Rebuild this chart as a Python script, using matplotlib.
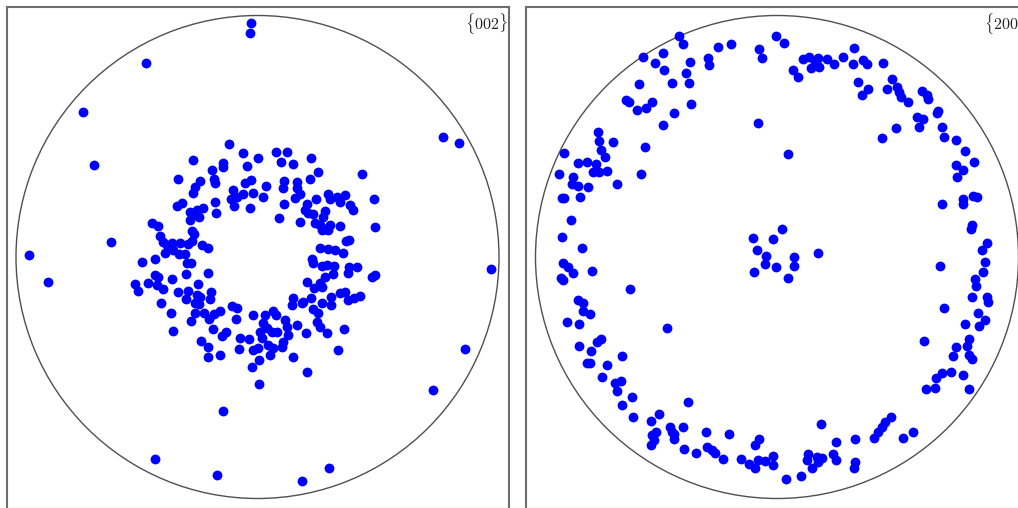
import matplotlib
matplotlib.use("Agg")
import matplotlib.pyplot as plt
from matplotlib import rcParams
from matplotlib.patches import Circle

import numpy as np

# pole figure points, projected onto the unit circle (x, y)
POLES_002_OUTER = [
    (-0.028, 0.968), (-0.029, 0.929), (-0.462, 0.802), (-0.724, 0.602),
    (-0.678, 0.380), (-0.947, 0.010), (-0.866, -0.102), (-0.608, 0.063),
    (0.769, 0.498), (0.836, 0.471), (0.968, -0.051), (0.858, -0.380),
    (0.725, -0.551), (0.297, -0.874), (0.183, -0.929), (-0.142, -0.636),
    (-0.423, -0.838), (-0.166, -0.901),
]

POLES_002_RING_UL = [
    (-0.117, 0.467), (-0.059, 0.429), (0.004, 0.411), (-0.269, 0.401),
    (-0.142, 0.388), (-0.142, 0.373), (-0.045, 0.377), (-0.190, 0.362),
    (-0.328, 0.324), (-0.238, 0.315), (-0.259, 0.291), (-0.268, 0.267),
    (-0.179, 0.321), (-0.176, 0.305), (-0.052, 0.305), (-0.027, 0.319),
    (-0.100, 0.276), (-0.108, 0.242), (-0.086, 0.250), (-0.059, 0.259),
    (-0.017, 0.264), (-0.096, 0.212), (-0.031, 0.204), (-0.176, 0.227),
    (-0.313, 0.224), (-0.335, 0.212), (-0.226, 0.203), (-0.252, 0.195),
    (-0.280, 0.186), (-0.262, 0.178), (-0.172, 0.181), (-0.280, 0.155),
    (-0.241, 0.166), (-0.438, 0.140), (-0.412, 0.127), (-0.272, 0.108),
    (-0.261, 0.094), (-0.272, 0.068), (-0.286, 0.052), (-0.402, 0.088),
    (-0.392, 0.064), (-0.376, 0.048), (-0.355, 0.057), (-0.321, 0.057),
    (-0.231, 0.050), (-0.205, 0.039), (-0.383, 0.015), (-0.349, 0.027),
    (-0.327, 0.014), (-0.302, 0.014), (-0.424, -0.007), (-0.480, -0.019),
    (-0.292, -0.026), (-0.275, -0.024),
]

POLES_002_RING_UR = [
    (0.075, 0.434), (0.121, 0.436), (0.096, 0.395), (0.148, 0.385),
    (0.220, 0.411), (0.431, 0.344), (0.249, 0.351), (0.217, 0.322),
    (0.035, 0.295), (0.111, 0.315), (0.104, 0.287), (0.162, 0.312),
    (0.162, 0.287), (0.176, 0.260), (0.024, 0.250), (0.155, 0.243),
    (0.242, 0.240), (0.293, 0.260), (0.300, 0.240), (0.328, 0.250),
    (0.362, 0.257), (0.342, 0.229), (0.383, 0.215), (0.394, 0.195),
    (0.482, 0.240), (0.111, 0.218), (0.204, 0.218), (0.197, 0.195),
    (0.210, 0.181), (0.231, 0.177), (0.280, 0.190), (0.272, 0.167),
    (0.089, 0.163), (0.176, 0.144), (0.238, 0.140), (0.259, 0.133),
    (0.266, 0.112), (0.280, 0.115), (0.300, 0.133), (0.293, 0.112),
    (0.342, 0.128), (0.487, 0.125), (0.366, 0.066), (0.380, 0.072),
    (0.259, 0.039), (0.293, 0.032), (0.321, 0.029), (0.353, 0.015),
    (0.224, -0.008), (0.231, -0.024),
]

POLES_002_RING_LR = [
    (0.266, -0.037), (0.289, -0.033), (0.317, -0.037), (0.311, -0.070),
    (0.280, -0.082), (0.379, -0.043), (0.411, -0.040), (0.373, -0.065),
    (0.473, -0.082), (0.487, -0.075), (0.206, -0.102), (0.259, -0.106),
    (0.266, -0.125), (0.235, -0.130), (0.342, -0.150), (0.362, -0.144),
    (0.373, -0.178), (0.400, -0.171), (0.424, -0.161), (0.146, -0.171),
    (0.142, -0.199), (0.183, -0.192), (0.190, -0.185), (0.222, -0.169),
    (0.266, -0.192), (0.303, -0.167), (0.303, -0.199), (0.231, -0.217),
    (0.252, -0.233), (0.245, -0.268), (0.259, -0.289), (0.289, -0.313),
    (0.359, -0.298), (0.335, -0.385), (0.165, -0.283), (0.200, -0.316),
    (0.146, -0.415), (0.206, -0.475), (0.006, -0.526),
    (-0.017, -0.240), (0.031, -0.240), (0.063, -0.224), (0.077, -0.240),
    (0.022, -0.275), (0.038, -0.295), (0.010, -0.309), (0.059, -0.309),
    (0.080, -0.309), (0.114, -0.261), (0.121, -0.289), (0.128, -0.323),
    (0.107, -0.351), (0.100, -0.371), (0.065, -0.378), (0.045, -0.364),
    (0.017, -0.337), (0.003, -0.378), (0.052, -0.406), (-0.017, -0.385),
    (0.007, -0.427), (-0.024, -0.454),
]

POLES_002_RING_LL = [
    (-0.424, -0.075), (-0.410, -0.081), (-0.507, -0.112), (-0.494, -0.141),
    (-0.453, -0.108), (-0.418, -0.118), (-0.391, -0.133), (-0.355, -0.092),
    (-0.296, -0.072), (-0.207, -0.065), (-0.245, -0.111), (-0.328, -0.145),
    (-0.288, -0.141), (-0.296, -0.175), (-0.251, -0.157), (-0.238, -0.166),
    (-0.257, -0.192), (-0.242, -0.195), (-0.193, -0.144), (-0.197, -0.175),
    (-0.398, -0.189), (-0.358, -0.231), (-0.257, -0.232), (-0.222, -0.230),
    (-0.276, -0.264), (-0.201, -0.255), (-0.180, -0.236), (-0.155, -0.225),
    (-0.104, -0.203), (-0.083, -0.210), (-0.088, -0.258), (-0.186, -0.297),
    (-0.145, -0.327), (-0.130, -0.312), (-0.350, -0.306), (-0.234, -0.348),
    (-0.207, -0.373), (-0.072, -0.334), (-0.036, -0.341), (-0.075, -0.379),
    (-0.204, -0.415), (-0.155, -0.406),
]

POLES_200_RING = [
    # upper left
    (-0.405, 0.916), (-0.390, 0.881), (-0.246, 0.868), (-0.190, 0.881),
    (-0.073, 0.861), (-0.063, 0.823), (-0.471, 0.846), (-0.556, 0.827),
    (-0.505, 0.802), (-0.468, 0.774), (-0.360, 0.806), (-0.287, 0.825),
    (-0.280, 0.795), (-0.378, 0.761), (-0.364, 0.722), (-0.436, 0.722),
    (-0.570, 0.715), (-0.625, 0.650), (-0.612, 0.641), (-0.578, 0.609),
    (-0.544, 0.618), (-0.519, 0.641), (-0.357, 0.632), (-0.427, 0.595),
    (-0.472, 0.547), (-0.742, 0.519), (-0.736, 0.482), (-0.678, 0.477),
    (-0.729, 0.443), (-0.712, 0.415), (-0.881, 0.432), (-0.547, 0.457),
    (-0.823, 0.390), (-0.788, 0.395), (-0.749, 0.385), (-0.761, 0.353),
    (-0.737, 0.351), (-0.703, 0.357), (-0.901, 0.342), (-0.846, 0.333),
    (-0.850, 0.301), (-0.823, 0.294), (-0.784, 0.289), (-0.661, 0.301),
    (-0.563, 0.342), (-0.892, 0.243), (-0.880, 0.243), (-0.816, 0.250),
    (-0.853, 0.153), (-0.889, 0.082), (-0.809, 0.039),
    # upper right
    (-0.004, 0.915), (0.029, 0.885), (0.320, 0.864), (0.109, 0.820),
    (0.134, 0.829), (0.171, 0.823), (0.206, 0.819), (0.141, 0.781),
    (0.175, 0.788), (0.157, 0.809), (0.237, 0.799), (0.275, 0.827),
    (0.316, 0.799), (0.355, 0.816), (0.371, 0.798), (0.440, 0.802),
    (0.067, 0.774), (0.086, 0.744), (0.334, 0.723), (0.378, 0.694),
    (0.351, 0.671), (0.454, 0.694), (0.477, 0.736), (0.498, 0.705),
    (0.505, 0.684), (0.512, 0.664), (0.544, 0.641), (0.599, 0.687),
    (0.622, 0.671), (0.627, 0.653), (0.668, 0.605), (0.664, 0.595),
    (0.578, 0.581), (0.606, 0.571), (0.588, 0.537), (0.492, 0.533),
    (0.436, 0.492), (0.684, 0.540), (0.692, 0.498), (0.741, 0.484),
    (0.778, 0.439), (0.816, 0.392), (0.741, 0.381), (0.771, 0.360),
    (0.744, 0.333), (0.682, 0.218), (0.769, 0.239), (0.769, 0.219),
    (0.810, 0.254), (0.829, 0.250), (0.809, 0.133), (0.803, 0.115),
    (0.868, 0.057), (0.848, 0.029),
    # lower right
    (0.861, -0.019), (0.854, -0.063), (0.820, -0.091), (0.824, -0.119),
    (0.809, -0.164), (0.868, -0.164), (0.875, -0.188), (0.675, -0.037),
    (0.693, -0.210), (0.834, -0.233), (0.861, -0.261), (0.838, -0.286),
    (0.778, -0.277), (0.607, -0.348), (0.795, -0.341), (0.785, -0.367),
    (0.740, -0.371), (0.728, -0.409), (0.796, -0.406), (0.806, -0.424),
    (0.719, -0.475), (0.682, -0.482), (0.658, -0.502), (0.769, -0.489),
    (0.617, -0.548), (0.654, -0.544), (0.796, -0.548), (0.472, -0.664),
    (0.447, -0.682), (0.434, -0.703), (0.419, -0.723), (0.403, -0.748),
    (0.564, -0.726), (0.521, -0.748), (0.181, -0.692), (0.323, -0.755),
    (0.243, -0.766), (0.127, -0.816), (0.123, -0.841), (0.164, -0.827),
    (0.185, -0.834), (0.171, -0.850), (0.144, -0.875), (0.233, -0.816),
    (0.243, -0.841), (0.323, -0.850), (0.319, -0.875), (0.098, -0.906),
    (0.036, -0.919), (-0.015, -0.824), (-0.015, -0.861),
    # lower left
    (-0.885, -0.024), (-0.864, -0.043), (-0.843, -0.067), (-0.896, -0.088),
    (-0.885, -0.095), (-0.767, -0.058), (-0.823, -0.178), (-0.805, -0.192),
    (-0.805, -0.222), (-0.774, -0.236), (-0.868, -0.268), (-0.819, -0.277),
    (-0.747, -0.351), (-0.729, -0.341), (-0.819, -0.367), (-0.770, -0.388),
    (-0.788, -0.440), (-0.774, -0.440), (-0.643, -0.410), (-0.705, -0.447),
    (-0.726, -0.496), (-0.671, -0.523), (-0.647, -0.513), (-0.661, -0.554),
    (-0.602, -0.581), (-0.643, -0.613), (-0.598, -0.661), (-0.370, -0.599),
    (-0.522, -0.679), (-0.487, -0.651), (-0.519, -0.737), (-0.501, -0.723),
    (-0.508, -0.758), (-0.522, -0.778), (-0.443, -0.703), (-0.436, -0.723),
    (-0.425, -0.734), (-0.425, -0.754), (-0.388, -0.703), (-0.384, -0.796),
    (-0.337, -0.813), (-0.295, -0.723), (-0.198, -0.734), (-0.291, -0.788),
    (-0.270, -0.799), (-0.257, -0.813), (-0.222, -0.836), (-0.149, -0.838),
    (-0.115, -0.858), (-0.091, -0.874), (-0.080, -0.841), (-0.048, -0.843),
    (-0.091, -0.778), (-0.073, -0.755),
]

POLES_200_INNER = [
    (-0.077, 0.554), (0.044, 0.425), (-0.609, -0.133), (-0.454, -0.295),
]

POLES_200_CENTER = [
    (0.019, 0.116), (-0.098, 0.080), (-0.015, 0.073), (-0.084, 0.031),
    (-0.047, 0.005), (-0.048, -0.028), (-0.094, -0.063), (-0.006, -0.041),
    (0.069, 0.000), (0.070, -0.037), (0.044, -0.086), (0.170, 0.017),
]

LABELS = [r"$\{002\}$", r"$\{200\}$"]

DOT_COLOR = "#0000ff"
FRAME_COLOR = "#6e6e6e"
CIRCLE_COLOR = "#505050"


def configure_style():
    rcParams['mathtext.fontset'] = 'cm'
    rcParams['axes.linewidth'] = 1.5


def make_axis(fig, left_px, center_px):
    # panels are 502 px square, bottom edge just below the image
    ax = fig.add_axes([left_px / 1018, -1 / 508, 502 / 1018, 502 / 508])
    r = 241.5
    ax.set_xlim(-(center_px - left_px) / r, (left_px + 502 - center_px) / r)
    ax.set_ylim(-(509 - 257) / r, (257 - 7) / r)
    ax.set_xticks([])
    ax.set_yticks([])
    for s in ax.spines.values():
        s.set_color(FRAME_COLOR)
    ax.add_patch(Circle((0, 0), 1.0, fill=False, ec=CIRCLE_COLOR, lw=1.0))
    return ax


def draw_poles(ax, groups):
    for g in groups:
        pts = np.array(g)
        ax.scatter(pts[:, 0], pts[:, 1], s=50, c=DOT_COLOR, linewidths=0, zorder=3)


def add_label(ax, text):
    ax.text(0.997, 0.993, text, transform=ax.transAxes, ha='right', va='top',
            fontsize=11.5, color='#222222')


if __name__ == "__main__":
    configure_style()

    fig = plt.figure(figsize=(10.18, 5.08), dpi=100, facecolor='white')

    ax1 = make_axis(fig, 7, 257.5)
    draw_poles(ax1, [POLES_002_OUTER, POLES_002_RING_UL, POLES_002_RING_UR,
                     POLES_002_RING_LR, POLES_002_RING_LL])
    add_label(ax1, LABELS[0])

    ax2 = make_axis(fig, 526, 777)
    draw_poles(ax2, [POLES_200_RING, POLES_200_INNER, POLES_200_CENTER])
    add_label(ax2, LABELS[1])

    fig.savefig("out.png", dpi=100)
